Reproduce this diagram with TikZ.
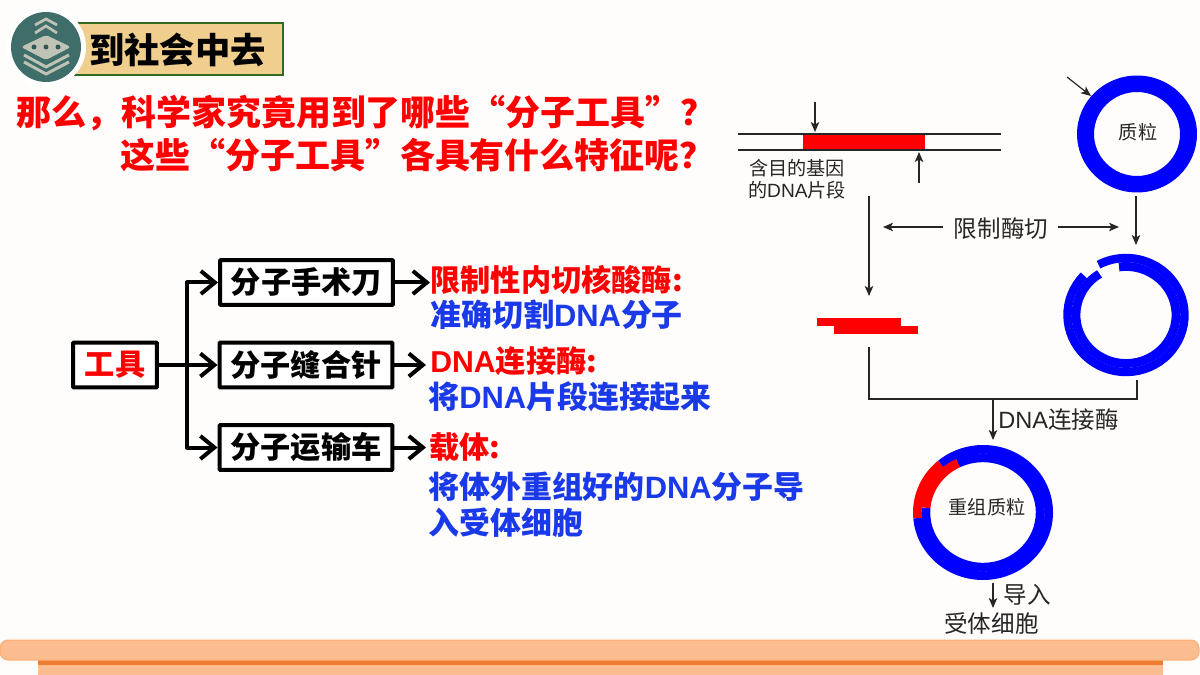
\documentclass[tikz,border=0pt]{standalone}
\usepackage{fontspec}
\setmainfont{Noto Sans CJK SC}
\newfontfamily\latinface{Liberation Sans}
\usetikzlibrary{arrows.meta,calc}
\definecolor{pagebg}{HTML}{FFFDFB}
\definecolor{ringblue}{HTML}{0000FF}
\definecolor{textblue}{HTML}{1A3AEA}
\definecolor{inkgrey}{HTML}{262626}
\definecolor{bandfill}{HTML}{FBBC8F}
\definecolor{bandedge}{HTML}{F9AE78}
\definecolor{bandstrip}{HTML}{EE7D31}
\definecolor{bannerfill}{HTML}{EFCE8E}
\definecolor{bannerline}{HTML}{2F6B1F}
\definecolor{logoteal}{HTML}{3F6D69}
\definecolor{logogrey}{HTML}{BFC3B5}
\newcommand{\dnaw}{{\latinface DNA}}
\newcommand{\dnab}{{\latinface\bfseries DNA}}
% one arc of a plasmid strand: centre x, y, radii x, y, start and end angle, colour, width
\newcommand{\strand}[8]{%
  \draw[#7,line width=#8*0.02cm]
    ({#1+#3*cos(#5)},{#2-#4*sin(#5)})
    arc[start angle=#5,end angle=#6,x radius=#3*0.02cm,y radius=#4*0.02cm];}
\tikzset{
  toolbox/.style={draw=black,fill=white,line width=0.08cm,rounded corners=0.02cm,
    minimum width=3.46cm,minimum height=0.9cm,inner sep=0pt,font=\fontsize{17.2}{17.2}\selectfont\bfseries},
  flowline/.style={line width=0.08cm,line cap=round,line join=round,-{Straight Barb[length=0.28cm,width=0.46cm,line width=0.08cm]}},
  headline/.style={text=red,font=\fontsize{19.9}{19.9}\selectfont\bfseries,anchor=west,inner sep=0pt},
  redname/.style={text=red,font=\fontsize{17.2}{17.2}\selectfont\bfseries,anchor=west,inner sep=0pt},
  bluenote/.style={text=textblue,font=\fontsize{17.6}{17.6}\selectfont\bfseries,anchor=west,inner sep=0pt},
  smalltag/.style={text=inkgrey,font=\fontsize{10.9}{11}\selectfont,inner sep=0pt},
  largetag/.style={text=inkgrey,font=\fontsize{13.4}{13.4}\selectfont,inner sep=0pt},
  thinline/.style={draw=inkgrey,line width=0.024cm},
  thinarrow/.style={thinline,-{Stealth[length=0.2cm,width=0.17cm,inset=0.05cm]}}
}
\begin{document}
\begin{tikzpicture}[x=0.02cm,y=-0.02cm]
\useasboundingbox (0,0) rectangle (1200,675);
\fill[pagebg] (0,0) rectangle (1200,675);

% footer band
\fill[bandfill] (38,655) rectangle (1163,675);
\fill[bandstrip] (38,660) rectangle (1163,665);
\draw[fill=bandfill,draw=bandedge,line width=0.02cm,rounded corners=0.16cm] (0,640) rectangle (1199,660);

% section banner and badge
\draw[fill=bannerfill,draw=bannerline,line width=0.045cm] (66,23) rectangle (283,75);
\node[font=\fontsize{20.1}{20}\selectfont\bfseries,inner sep=0pt] (banner) at (177.5,50) {到社会中去};
\fill[white] (46,47) circle[radius=0.8cm];
\fill[logoteal] (46,47) circle[radius=0.7cm];
\draw[logogrey,line width=0.055cm] (35,25) -- (46,19) -- (57,25);
\draw[logogrey,line width=0.055cm] (35,33) -- (46,26) -- (57,33);
\draw[logogrey,line width=0.06cm,line join=round] (24,55) -- (46,67) -- (69,55);
\draw[logogrey,line width=0.06cm,line join=round] (24,62) -- (46,74) -- (69,62);
\fill[logogrey,rounded corners=0.06cm] (21,47) -- (46,35) -- (71,47) -- (46,60) -- cycle;
\foreach \dotx in {34,46,58} \fill[logoteal!80!black] (\dotx,47) circle[radius=0.05cm];

% headline
\node[headline] (head1) at (16,113) {那么，科学家究竟用到了哪些“分子工具”？};
\node[headline] (head2) at (120,155) {这些“分子工具”各具有什么特征呢？};

% tool tree
\node[toolbox,minimum width=1.68cm,text=red] (tools) at (115,365) {工具};
\node[toolbox] (knife) at (306.5,282.5) {分子手术刀};
\node[toolbox] (needle) at (306,365) {分子缝合针};
\node[toolbox] (truck) at (306,447.5) {分子运输车};
\coordinate (trunk) at (187,365);
\draw[line width=0.08cm,line cap=round] (tools.east) -- (trunk);
\draw[flowline] (trunk) |- (knife.west);
\draw[flowline] (trunk) -- (needle.west);
\draw[flowline] (trunk) |- (truck.west);

\node[redname] (nameA) at (430,280) {限制性内切核酸酶:};
\node[bluenote] (noteA) at (430,315) {准确切割\dnab 分子};
\node[redname] (nameB) at (430,361) {\dnab 连接酶:};
\node[bluenote] (noteB) at (428,397) {将\dnab 片段连接起来};
\node[redname] (nameC) at (429,447) {载体:};
\node[bluenote] (noteC) at (428,487) {将体外重组好的\dnab 分子导};
\node[bluenote] (noteD) at (428,523) {入受体细胞};
\draw[flowline] (knife.east) -- (knife.east -| nameA.west);
\draw[flowline] (needle.east) -- ([xshift=-0.08cm]needle.east -| nameB.west);
\draw[flowline] (truck.east) -- ([xshift=-0.06cm]truck.east -| nameC.west);

% donor DNA with the target gene
\fill[red] (803,134) rectangle (925,150);
\draw[thinline] (738,134) -- (1001,134);
\draw[thinline] (738,150) -- (1001,150);
\coordinate (cutTopA) at (815,102); \coordinate (cutTopB) at (815,132);
\coordinate (cutLowA) at (919,183); \coordinate (cutLowB) at (919,152);
\draw[thinarrow] (cutTopA) -- (cutTopB);
\draw[thinarrow] (cutLowA) -- (cutLowB);
\node[smalltag] (geneA) at (797,168) {含目的基因};
\node[smalltag] (geneB) at (797,190) {的\dnaw 片段};

% intact plasmid
\fill[ringblue,even odd rule] (1137,134) ellipse[x radius=1.2cm,y radius=1.17cm]
  (1137,134) ellipse[x radius=0.86cm,y radius=0.84cm];
\node[smalltag] (plasmid) at (1138,132) {质粒};
\coordinate (pointA) at (1067,77); \coordinate (pointB) at (1091,96);
\draw[thinarrow] (pointA) -- (pointB);

% restriction enzyme step
\coordinate (dnaDownA) at (869,196); \coordinate (dnaDownB) at (869,296);
\draw[thinarrow] (dnaDownA) -- (dnaDownB);
\coordinate (ringDownA) at (1136,196); \coordinate (ringDownB) at (1136,245);
\draw[thinarrow] (ringDownA) -- (ringDownB);
\node[largetag] (cutting) at (1001,229) {限制酶切};
\coordinate (cutLeft) at (883,227); \coordinate (cutRight) at (1119,227);
\draw[thinarrow] (943,227) -- (cutLeft);
\draw[thinarrow] (1058,227) -- (cutRight);

% fragment with sticky ends
\fill[red] (817,318) rectangle (901,326);
\fill[red] (834,326) rectangle (918,334);

% opened plasmid
\strand{1126}{315}{58.5}{57}{136}{478}{ringblue}{8.4}
\strand{1126}{315}{50}{48.5}{122}{458}{ringblue}{8.8}

% ligation bracket
\coordinate (joinL) at (869,347); \coordinate (joinR) at (1137,380);
\coordinate (joinM) at (993,399); \coordinate (joinEnd) at (993,440);
\draw[thinline] (joinL) |- (joinM) -| (joinR);
\draw[thinarrow] (joinM) -- (joinEnd);
\node[largetag,anchor=west] (ligase) at (998,420) {\dnaw 连接酶};

% recombinant plasmid
\strand{983}{512.5}{65.7}{63.2}{185}{490}{ringblue}{8.6}
\strand{983}{512.5}{57.3}{54.8}{175}{476}{ringblue}{9}
\strand{983}{512.5}{65.7}{63.2}{130}{185}{red}{8.6}
\strand{983}{512.5}{57.3}{54.8}{116}{175}{red}{9}
\node[smalltag] (recomb) at (987,507) {重组质粒};

% transfer into the host cell
\coordinate (hostA) at (993,583); \coordinate (hostB) at (993,608);
\draw[thinarrow] (hostA) -- (hostB);
\node[largetag] (enter) at (1027.5,595) {导入};
\node[largetag] (host) at (991.5,624) {受体细胞};
\end{tikzpicture}
\end{document}
